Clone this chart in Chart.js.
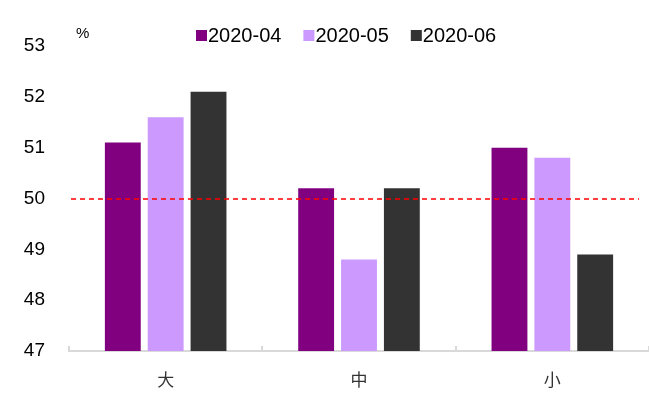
<!DOCTYPE html>
<html>
<head>
<meta charset="utf-8">
<script src="https://cdn.jsdelivr.net/npm/chart.js@4/dist/chart.umd.min.js"></script>
<style>
  html, body { margin: 0; padding: 0; background: #fff; }
  #wrap { width: 649px; height: 401px; }
</style>
</head>
<body>
<div id="wrap"><canvas id="chart" width="649" height="401"></canvas></div>
<script>
// data
const categories = ['大', '中', '小'];
const seriesNames = ['2020-04', '2020-05', '2020-06'];
const apr = [51.1, 50.2, 51.0];
const may = [51.6, 48.8, 50.8];
const jun = [52.1, 50.2, 48.9];
const refLine = 50;
const yTicks = [47, 48, 49, 50, 51, 52, 53];

const colors = ['#800080', '#cc99ff', '#333333'];
const latin = 'Arial, "Liberation Sans", sans-serif';

// dashed reference line at 50 + legend across the top + "%" unit
const extras = {
  id: 'extras',
  afterDatasetsDraw(chart) {
    const ctx = chart.ctx;
    const area = chart.chartArea;
    const y = Math.round(chart.scales.y.getPixelForValue(refLine));
    ctx.save();
    ctx.strokeStyle = '#ff0000';
    ctx.lineWidth = 1.6;
    ctx.setLineDash([5, 4]);
    ctx.beginPath();
    ctx.moveTo(area.left + 2, y);
    ctx.lineTo(area.right - 10, y);
    ctx.stroke();
    ctx.restore();
  },
  afterDraw(chart) {
    const ctx = chart.ctx;
    ctx.save();
    ctx.textBaseline = 'middle';
    ctx.textAlign = 'left';

    // unit label
    ctx.font = '15px ' + latin;
    ctx.fillStyle = '#000';
    ctx.fillText('%', 76, 34);

    // legend
    ctx.font = '20px ' + latin;
    let x = 196;
    const cy = 35;
    chart.data.datasets.forEach(ds => {
      ctx.fillStyle = ds.backgroundColor;
      ctx.fillRect(x, cy - 5, 11, 11);
      ctx.fillStyle = '#000';
      ctx.fillText(ds.label, x + 12, cy + 1);
      x += 12 + ctx.measureText(ds.label).width + 22;
    });
    ctx.restore();
  }
};

const datasets = [apr, may, jun].map((vals, i) => ({
  label: seriesNames[i],
  data: vals,
  backgroundColor: colors[i],
  borderColor: colors[i],
  borderWidth: 0,
  categoryPercentage: 0.665,
  barPercentage: 0.837
}));

new Chart(document.getElementById('chart'), {
  type: 'bar',
  data: { labels: categories, datasets: datasets },
  options: {
    responsive: false,
    animation: false,
    layout: { padding: { top: 46, right: 0, left: 0, bottom: 0 } },
    plugins: {
      legend: { display: false },
      tooltip: { enabled: false }
    },
    scales: {
      x: {
        grid: {
          display: true,
          drawOnChartArea: false,
          drawTicks: true,
          tickLength: -5,
          color: '#d9d9d9',
          lineWidth: 2
        },
        border: { display: true, color: '#d9d9d9', width: 2 },
        ticks: {
          padding: 23,
          color: '#333',
          font: { family: '"Noto Sans CJK SC", sans-serif', size: 17 }
        },
        afterFit(scale) { scale.height = 50; }
      },
      y: {
        min: yTicks[0],
        max: yTicks[yTicks.length - 1],
        grid: { display: false },
        border: { display: false },
        afterBuildTicks(scale) { scale.ticks = yTicks.map(v => ({ value: v })); },
        ticks: {
          padding: 16,
          color: '#000',
          font: { family: latin, size: 19 }
        },
        afterFit(scale) { scale.width = 69; }
      }
    }
  },
  plugins: [extras]
});
</script>
</body>
</html>
